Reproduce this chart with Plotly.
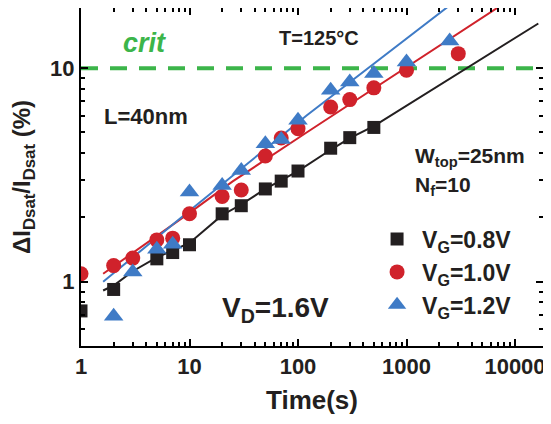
import plotly.graph_objects as go

# ---- data ----
t_black = [1, 2, 5, 7, 10, 20, 30, 50, 70, 100, 200, 300, 500]
y_black = [0.73, 0.92, 1.28, 1.37, 1.49, 2.08, 2.27, 2.72, 2.96, 3.30, 4.22, 4.73, 5.28]

t_red = [1, 2, 3, 5, 7, 10, 20, 30, 50, 70, 100, 200, 300, 500, 1000, 3000]
y_red = [1.09, 1.19, 1.29, 1.57, 1.60, 2.08, 2.51, 2.69, 3.88, 4.71, 5.21, 6.58, 7.13, 8.09, 9.79, 11.7]

t_blue = [2, 3, 5, 7, 10, 20, 30, 50, 70, 100, 200, 300, 500, 1000, 2500]
y_blue = [0.69, 1.11, 1.42, 1.50, 2.63, 2.82, 3.32, 4.43, 4.63, 5.70, 7.88, 8.62, 9.44, 10.7, 13.4]

# fitted trend lines
fit_black_t = [1.6, 2, 3, 5, 7, 10, 20, 30, 50, 70, 100, 200, 300, 500, 16400]
fit_black_y = [0.91, 0.96, 1.12, 1.30, 1.40, 1.52, 2.05, 2.30, 2.72, 2.98, 3.30, 4.15, 4.70, 5.35, 16.2]
fit_red_t = [1.6, 10, 25, 120, 7800]
fit_red_y = [1.09, 2.1, 2.95, 5.0, 20]
fit_blue_t = [1.6, 10, 120, 2600]
fit_blue_y = [1.0, 2.15, 6.0, 20]

crit_t = [1, 18000]
crit_y = [10, 10]

x_ticks = [1, 10, 100, 1000, 10000]
x_ticktext = ["1", "10", "100", "1000", "10000"]
y_ticks = [1, 10]
y_ticktext = ["1", "10"]

series_names = ["V<sub>G</sub>=0.8V", "V<sub>G</sub>=1.0V", "V<sub>G</sub>=1.2V"]

BLACK = "#231f20"
RED = "#d0222b"
BLUE = "#3f7bc6"
GREEN = "#3cb54a"
FONT = "Liberation Sans, Arial, sans-serif"

x_minor = [m * 10 ** d for d in range(0, 5) for m in range(2, 10)]
y_minor = [0.5, 0.6, 0.7, 0.8, 0.9] + [m for m in range(2, 10)] + [20]

fig = go.Figure()

# lines
fig.add_trace(go.Scatter(x=crit_t, y=crit_y, mode="lines", showlegend=False,
                         line=dict(color=GREEN, width=4, dash="17px,12px")))
fig.add_trace(go.Scatter(x=fit_black_t, y=fit_black_y, mode="lines", showlegend=False,
                         line=dict(color=BLACK, width=2)))
fig.add_trace(go.Scatter(x=fit_red_t, y=fit_red_y, mode="lines", showlegend=False,
                         line=dict(color=RED, width=2)))
fig.add_trace(go.Scatter(x=fit_blue_t, y=fit_blue_y, mode="lines", showlegend=False,
                         line=dict(color=BLUE, width=2)))

# markers
fig.add_trace(go.Scatter(x=t_black, y=y_black, mode="markers", name=series_names[0],
                         marker=dict(symbol="square", size=13, color=BLACK)))
fig.add_trace(go.Scatter(x=t_red, y=y_red, mode="markers", name=series_names[1],
                         marker=dict(symbol="circle", size=15, color=RED)))
fig.add_trace(go.Scatter(x=t_blue, y=y_blue, mode="markers", name=series_names[2],
                         marker=dict(symbol="triangle-up", size=17, color=BLUE)))

axis_common = dict(
    type="log", showline=True, linewidth=2, linecolor="black", mirror="ticks",
    ticks="inside", ticklen=7, tickwidth=2, tickcolor="black", showgrid=False,
    zeroline=False, automargin=False,
    tickfont=dict(family=FONT, size=22, color=BLACK, weight="bold"),
)

fig.update_layout(
    width=543, height=416,
    margin=dict(l=73, r=8, t=0, b=78),
    paper_bgcolor="white", plot_bgcolor="white",
    font=dict(family=FONT, color=BLACK),
    xaxis=dict(**axis_common, range=[0, 4.258], tickmode="array", tickvals=x_ticks,
               ticktext=x_ticktext,
               minor=dict(tickmode="array", tickvals=x_minor, ticks="inside", ticklen=4,
                          tickwidth=1.5, tickcolor="black", showgrid=False),
               title=dict(text="Time(s)", font=dict(family=FONT, size=26, color=BLACK, weight="bold"),
                          standoff=12)),
    yaxis=dict(**axis_common, range=[-0.301, 1.282], tickmode="array", tickvals=y_ticks,
               ticktext=y_ticktext,
               minor=dict(tickmode="array", tickvals=y_minor, ticks="inside", ticklen=4,
                          tickwidth=1.5, tickcolor="black", showgrid=False),
               title=dict(text="\u0394I<sub>Dsat</sub>/I<sub>Dsat</sub> (%)",
                          font=dict(family=FONT, size=24, color=BLACK, weight="bold"),
                          standoff=16)),
    legend=dict(x=0.630, y=0.380, xanchor="left", yanchor="top",
                bgcolor="rgba(0,0,0,0)", borderwidth=0,
                font=dict(family=FONT, size=23, color=BLACK, weight="bold"),
                itemwidth=40),
    showlegend=True,
)

def ann(text, x, y, size, color=BLACK, xanchor="center", italic=False):
    fig.add_annotation(text=text, x=x, y=y, xref="paper", yref="paper",
                       xanchor=xanchor, yanchor="middle", showarrow=False,
                       font=dict(family=FONT, size=size, color=color, weight="bold",
                                 style="italic" if italic else "normal"))

ann("crit", 0.1385, 0.896, 27, GREEN, italic=True)
ann("T=125\u00b0C", 0.515, 0.911, 20)
ann("L=40nm", 0.141, 0.678, 22)
ann("W<sub>top</sub>=25nm", 0.719, 0.559, 21, xanchor="left")
ann("N<sub>f</sub>=10", 0.719, 0.473, 21, xanchor="left")
ann("V<sub>D</sub>=1.6V", 0.301, 0.107, 28, xanchor="left")

fig.write_html("out.html")
